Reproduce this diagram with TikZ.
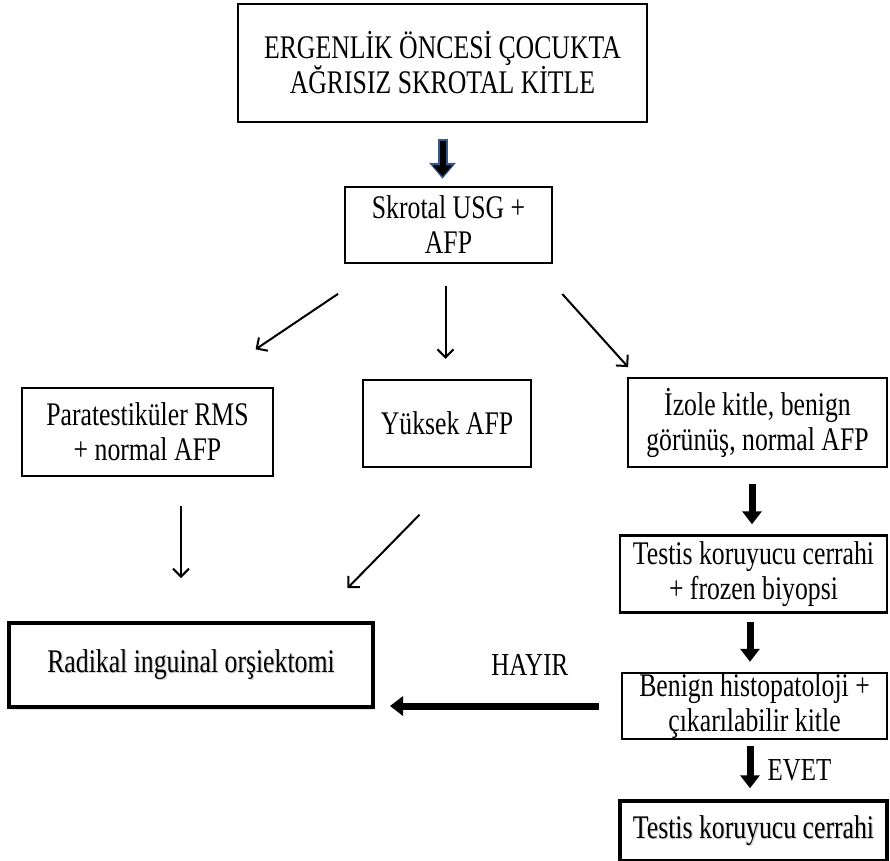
\documentclass[tikz,border=0pt]{standalone}
\usepackage{fontspec}
\setmainfont{Liberation Serif}[FakeStretch=0.78]
\usetikzlibrary{arrows.meta, positioning, shadows}
\definecolor{arrownavy}{RGB}{54,86,140}
% soft text shadow for the end boxes
\newcommand{\shtext}[1]{\leavevmode\rlap{\raisebox{-1.5pt}{\hspace{1.2pt}\textcolor{gray!35}{#1}}}#1}
\tikzset{
  % Flowchart box
  flowbox/.style={
    rectangle, draw=black, line width=2.5pt, fill=white, align=center,
    font=\fontsize{33}{35}\selectfont, inner sep=2pt
  },
  % End box (thicker border + shadow)
  endbox/.style={
    flowbox, line width=4pt,
    drop shadow={shadow xshift=1pt, shadow yshift=-3pt, fill=gray!45}
  },
  thinarrow/.style={-{Straight Barb[length=8pt, width=16pt]}, line width=2pt},
  bigarrow/.style={-{Triangle[length=13pt, width=19pt]}, line width=7pt},
  flowlabel/.style={font=\fontsize{32}{34}\selectfont, inner sep=2pt}
}
\begin{document}
\begin{tikzpicture}[x=1pt, y=-1pt]
  \useasboundingbox (0,0) rectangle (890,860);

  % Start
  \node[flowbox, minimum width=409pt, minimum height=118pt] (top) at (442.5,63)
    {ERGENLİK ÖNCESİ ÇOCUKTA\\AĞRISIZ SKROTAL KİTLE};

  % Work-up
  \node[flowbox, minimum width=207pt, minimum height=76pt] (usg) at (448.5,225)
    {Skrotal USG +\\AFP};

  % Three branches
  \node[flowbox, minimum width=251pt, minimum height=88pt] (para) at (147.5,432)
    {Paratestiküler RMS\\+ normal AFP};
  \node[flowbox, minimum width=168pt, minimum height=87pt] (yuksek) at (447,423.5)
    {Yüksek AFP};
  \node[flowbox, minimum width=259pt, minimum height=89pt] (izole) at (757.5,422.5)
    {İzole kitle, benign\\görünüş, normal AFP};

  % Right column
  \node[flowbox, minimum width=267pt, minimum height=77pt, below=66pt of izole, xshift=-4pt] (frozen)
    {Testis koruyucu cerrahi\\+ frozen biyopsi};
  \node[flowbox, minimum width=265pt, minimum height=66pt, inner sep=0pt, below=58pt of frozen, xshift=1pt] (benign)
    {Benign histopatoloji +\\çıkarılabilir kitle};
  \node[endbox, minimum width=267pt, minimum height=60pt, below=59pt of benign, xshift=-1pt] (testis)
    {\shtext{Testis koruyucu cerrahi}};

  % Radical
  \node[endbox, minimum width=364pt, minimum height=84pt] (radikal) at (191,665)
    {\shtext{Radikal inguinal orşiektomi}};

  % Arrows
  \draw[bigarrow, arrownavy, line width=10pt, -{Triangle[length=16pt, width=26pt]},
    shorten <=16pt, shorten >=7pt] (top.south) -- (top.south |- usg.north);
  \draw[bigarrow, black, line width=6pt, -{Triangle[length=11pt, width=19pt]},
    shorten <=17.5pt, shorten >=9.5pt] (top.south) -- (top.south |- usg.north);

  \draw[thinarrow, shorten <=53pt, shorten >=67pt] ([xshift=-66.5pt]usg.south) -- ([xshift=52.5pt]para.north);
  \draw[thinarrow, shorten <=22pt, shorten >=20pt] ([xshift=-3pt]usg.south) -- ([xshift=-3pt]usg.south |- yuksek.north);
  \draw[thinarrow, shorten <=40pt, shorten >=13pt] ([xshift=87pt]usg.south) -- ([xshift=-120.7pt]izole.north);

  \draw[thinarrow, shorten <=29pt, shorten >=43pt] ([xshift=33.5pt]para.south) -- ([xshift=33.5pt]para.south |- radikal.north);
  \draw[thinarrow, shorten <=65pt, shorten >=46pt] ([xshift=18pt]yuksek.south) -- ([xshift=124.3pt]radikal.north);

  \draw[bigarrow, shorten <=16pt, shorten >=10pt] ([xshift=-5.5pt]izole.south) -- ([xshift=-5.5pt]izole.south |- frozen.north);
  \draw[bigarrow, shorten <=8pt, shorten >=10pt] ([xshift=-3.5pt]frozen.south) -- ([xshift=-3.5pt]frozen.south |- benign.north);
  \draw[bigarrow, shorten <=6pt, shorten >=11pt] ([xshift=-4.5pt]benign.south) -- ([xshift=-4.5pt]benign.south |- testis.north)
    node[midway, right=12pt, flowlabel] (evet) {EVET};
  \draw[bigarrow, shorten <=22pt, shorten >=15pt] (benign.west) -- (benign.west -| radikal.east)
    node[pos=0.37, above=25pt, flowlabel] (hayir) {HAYIR};
\end{tikzpicture}
\end{document}
